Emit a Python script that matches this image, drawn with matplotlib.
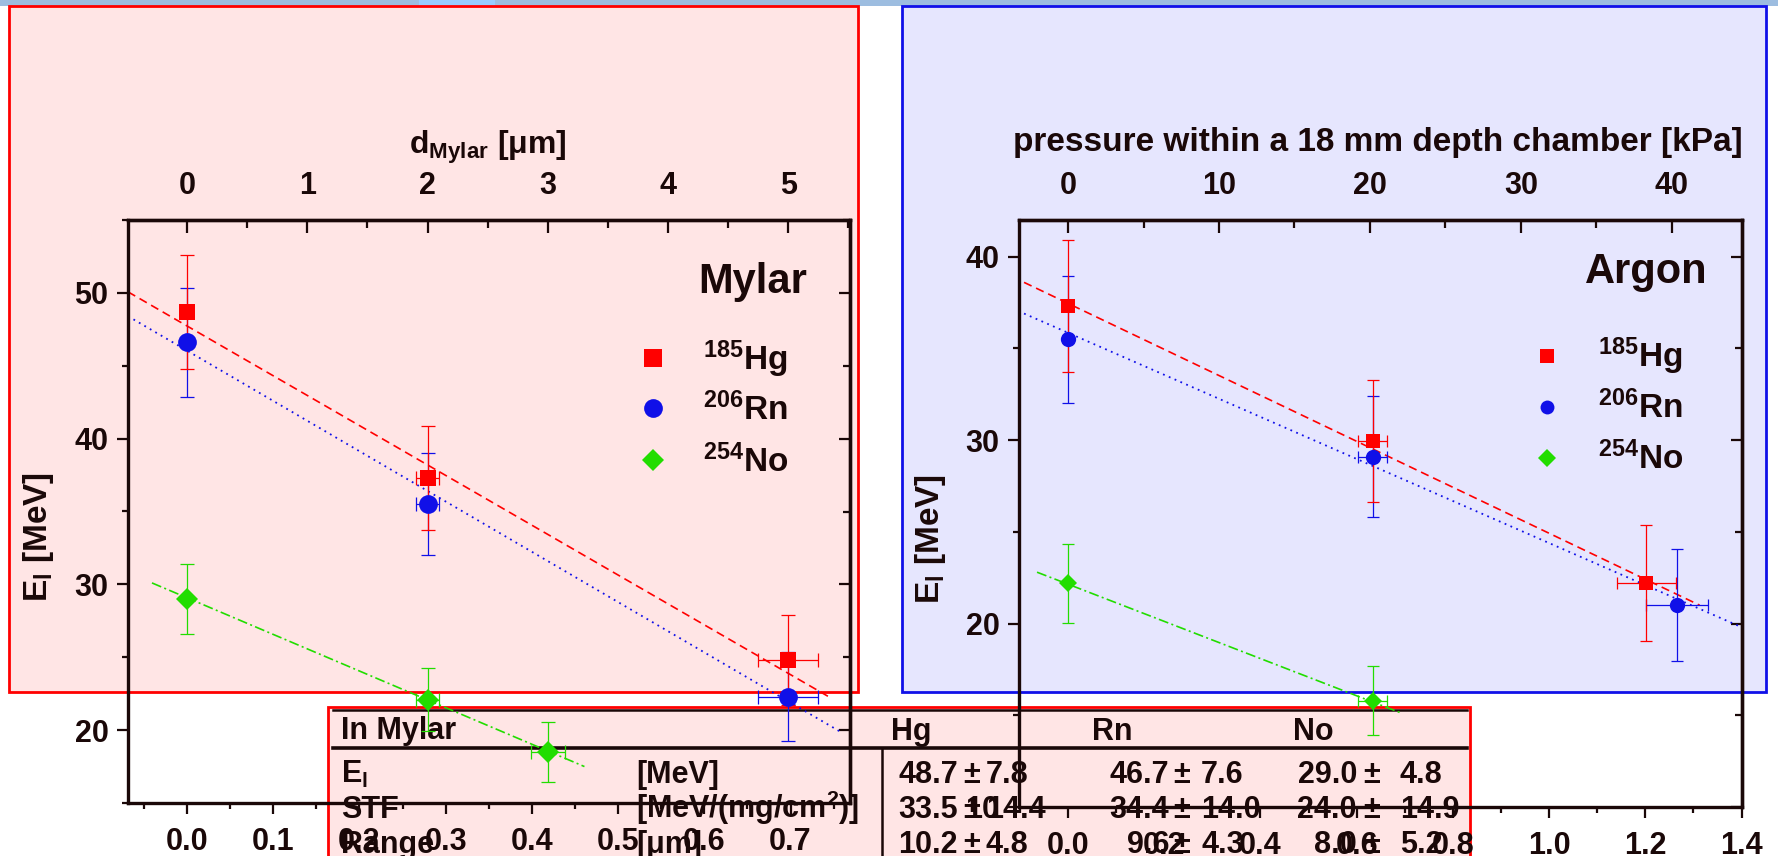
import numpy as np
import matplotlib
matplotlib.use('Agg')
import matplotlib.pyplot as plt
from matplotlib.patches import Rectangle
from matplotlib.lines import Line2D
from matplotlib.ticker import MultipleLocator, FormatStrFormatter

# ---------------- data ----------------
# Mylar: areal density [mg/cm^2] vs E_l [MeV]
my_hg_x = [0.0, 0.279, 0.697]
my_hg_y = [48.7, 37.3, 24.8]
my_hg_yerr = [3.9, 3.55, 3.1]
my_hg_xerr = [0.0, 0.013, 0.035]
my_rn_x = [0.0, 0.279, 0.697]
my_rn_y = [46.6, 35.5, 22.3]
my_rn_yerr = [3.75, 3.5, 3.05]
my_rn_xerr = [0.0, 0.013, 0.035]
my_no_x = [0.0, 0.279, 0.4185]
my_no_y = [29.0, 22.1, 18.5]
my_no_yerr = [2.4, 2.15, 2.05]
my_no_xerr = [0.0, 0.013, 0.020]
# fit lines (end points)
my_hg_fit_x = [-0.0684, 0.747]
my_hg_fit_y = [50.07, 22.2]
my_rn_fit_x = [-0.0684, 0.7575]
my_rn_fit_y = [48.4, 19.9]
my_no_fit_x = [-0.0406, 0.461]
my_no_fit_y = [30.1, 17.5]
mylar_mg_per_um = 0.1395

# Argon
ar_hg_x = [0.0, 0.633, 1.202]
ar_hg_y = [37.3, 29.95, 22.2]
ar_hg_yerr = [3.6, 3.35, 3.15]
ar_hg_xerr = [0.0, 0.031, 0.061]
ar_rn_x = [0.0, 0.633, 1.266]
ar_rn_y = [35.5, 29.1, 21.0]
ar_rn_yerr = [3.45, 3.3, 3.05]
ar_rn_xerr = [0.0, 0.031, 0.064]
ar_no_x = [0.0, 0.633]
ar_no_y = [22.2, 15.8]
ar_no_yerr = [2.15, 1.9]
ar_no_xerr = [0.0, 0.031]
ar_hg_fit_x = [-0.0915, 1.313]
ar_hg_fit_y = [38.6, 21.0]
ar_rn_fit_x = [-0.0915, 1.396]
ar_rn_fit_y = [36.9, 19.85]
ar_no_fit_x = [-0.0645, 0.695]
ar_no_fit_y = [22.8, 15.1]
argon_mg_per_kpa = 0.03137

# table
species = ['Hg', 'Rn', 'No']
row_names = ['E$_l$', 'STF', 'Range']
row_units = ['[MeV]', '[MeV/(mg/cm$^2$)]', '[μm]']
row_vals = [['48.7', '46.7', '29.0'], ['33.5', '34.4', '24.0'], ['10.2', '9.6', '8.0']]
row_errs = [['7.8', '7.6', '4.8'], ['14.4', '14.0', '14.9'], ['4.8', '4.3', '5.2']]
legend_labels = ['$^{185}$Hg', '$^{206}$Rn', '$^{254}$No']

# ---------------- style ----------------
W, H = 1778, 856
INK = '#1a0808'
RED, BLUE, GREEN = '#ff0000', '#1010e8', '#22dd00'

plt.rcParams.update({
    'font.family': ['Liberation Sans', 'DejaVu Sans'],
    'font.weight': 'bold',
    'mathtext.fontset': 'custom',
    'mathtext.rm': 'Liberation Sans:bold',
    'mathtext.it': 'Liberation Sans:bold',
    'mathtext.bf': 'Liberation Sans:bold',
    'mathtext.default': 'bf',
    'axes.linewidth': 2.4,
    'axes.edgecolor': INK,
    'text.color': INK,
    'xtick.color': INK,
    'ytick.color': INK,
})

fig = plt.figure(figsize=(W / 100, H / 100), dpi=100)


def fx(px):
    return px / W


def fy(py):
    return 1 - py / H


def box(x0, y0, x1, y1, face, edge, lw, z=0):
    fig.add_artist(Rectangle((fx(x0), fy(y1)), (x1 - x0) / W, (y1 - y0) / H,
                             transform=fig.transFigure, facecolor=face,
                             edgecolor=edge, linewidth=lw, zorder=z))


def seg(x0, y0, x1, y1, lw, color=INK, z=1):
    fig.add_artist(Line2D([fx(x0), fx(x1)], [fy(y0), fy(y1)], transform=fig.transFigure,
                          color=color, linewidth=lw, zorder=z))


def txt(x, y, s, size, ha='left', va='baseline', rot=0, z=2):
    fig.text(fx(x), fy(y), s, fontsize=size, ha=ha, va=va, rotation=rot,
             fontweight='bold', color=INK, zorder=z)


# background band and panels
box(0, 0, W, 6, '#9dbde0', 'none', 0)
box(419, 0, 495, 6, '#99ccff', 'none', 0)
box(9, 6, 858, 692, '#ffe5e5', RED, 2.0)
box(902, 6, 1766, 692, '#e6e6fe', BLUE, 2.0)

# table (sits under the charts)
box(328, 707, 1470, 900, '#ffe5e5', RED, 2.0)
seg(333, 710, 1467, 710, 1.8)
seg(333, 748, 1467, 748, 2.6)
seg(882, 748, 882, 860, 1.8)
txt(341, 739, 'In Mylar', 22)
sp_x = [891, 1092, 1293]
for s, x in zip(species, sp_x):
    txt(x, 740, s, 22)
row_y = [783, 818, 853]
pm_x = [972, 1182, 1372]
left_end = [958, 1169, 1357]
right_start = [986, 1201, 1400]
for i, yb in enumerate(row_y):
    txt(341, yb, row_names[i], 22)
    txt(636, yb, row_units[i], 22)
    for j in range(3):
        txt(left_end[j], yb, row_vals[i][j], 22, ha='right')
        txt(pm_x[j], yb, '±', 22, ha='center')
        txt(right_start[j], yb, row_errs[i][j], 22, ha='left')


def make_chart(px_box, xlim, ylim, xmaj, xmin, top_fwd, top_inv, top_maj, top_min, top_fmt):
    x0, y0, x1, y1 = px_box
    ax = fig.add_axes([fx(x0), fy(y1), (x1 - x0) / W, (y1 - y0) / H])
    ax.set_zorder(5)
    ax.patch.set_visible(False)
    ax.set_xlim(*xlim)
    ax.set_ylim(*ylim)
    ax.spines['top'].set_visible(True)
    ax.xaxis.set_major_locator(MultipleLocator(xmaj))
    ax.xaxis.set_minor_locator(MultipleLocator(xmin))
    ax.xaxis.set_major_formatter(FormatStrFormatter('%.1f'))
    ax.yaxis.set_major_locator(MultipleLocator(10))
    ax.yaxis.set_minor_locator(MultipleLocator(5))
    ax.yaxis.set_major_formatter(FormatStrFormatter('%d'))
    ax.tick_params(which='major', direction='out', length=8, width=1.6, labelsize=22)
    ax.tick_params(which='minor', direction='out', length=4.5, width=1.6)
    ax.tick_params(axis='y', pad=6)
    ax.tick_params(axis='x', pad=9)

    secx = ax.secondary_xaxis('top', functions=(top_fwd, top_inv))
    secx.xaxis.set_major_locator(MultipleLocator(top_maj))
    secx.xaxis.set_minor_locator(MultipleLocator(top_min))
    secx.xaxis.set_major_formatter(FormatStrFormatter(top_fmt))
    secx.tick_params(which='major', direction='in', length=9, width=1.6, labelsize=22, pad=14)
    secx.tick_params(which='minor', direction='in', length=5.5, width=1.6)
    secx.spines['top'].set_linewidth(2.4)

    secy = ax.secondary_yaxis('right')
    secy.yaxis.set_major_locator(MultipleLocator(10))
    secy.yaxis.set_minor_locator(MultipleLocator(5))
    secy.tick_params(which='major', direction='in', length=8, width=1.6, labelright=False)
    secy.tick_params(which='minor', direction='in', length=5, width=1.6, labelright=False)
    secy.spines['right'].set_linewidth(2.4)
    return ax


def series(ax, x, y, yerr, xerr, color, marker, ms, cap):
    x = np.asarray(x)
    y = np.asarray(y)
    xerr = np.asarray(xerr)
    ax.errorbar(x, y, yerr=yerr, fmt='none', ecolor=color, elinewidth=0.9,
                capsize=cap, capthick=0.9, zorder=3)
    m = xerr > 0
    ax.errorbar(x[m], y[m], xerr=xerr[m], fmt='none', ecolor=color, elinewidth=0.9,
                capsize=cap, capthick=0.9, zorder=3)
    ax.plot(x, y, linestyle='none', marker=marker, markersize=ms, color=color,
            markeredgewidth=0, zorder=4)


DASH = (0, (5, 3))
DOT = (0, (1, 2.5))
DASHDOT = (0, (6, 2, 1.2, 2))

# ---- Mylar chart ----
axm = make_chart((128, 220, 850, 803), (-0.0684, 0.769), (15, 55), 0.1, 0.05,
                 lambda v: v / mylar_mg_per_um, lambda v: v * mylar_mg_per_um, 1, 0.5, '%d')
axm.plot(my_hg_fit_x, my_hg_fit_y, color=RED, lw=1.2, ls=DASH, zorder=2)
axm.plot(my_rn_fit_x, my_rn_fit_y, color=BLUE, lw=1.3, ls=DOT, zorder=2)
axm.plot(my_no_fit_x, my_no_fit_y, color=GREEN, lw=1.2, ls=DASHDOT, zorder=2)
series(axm, my_no_x, my_no_y, my_no_yerr, my_no_xerr, GREEN, 'D', 11.2, 5)
series(axm, my_rn_x, my_rn_y, my_rn_yerr, my_rn_xerr, BLUE, 'o', 13.5, 5)
series(axm, my_hg_x, my_hg_y, my_hg_yerr, my_hg_xerr, RED, 's', 12, 5)

# ---- Argon chart ----
axa = make_chart((1019, 220, 1742, 807), (-0.102, 1.401), (10, 42), 0.2, 0.1,
                 lambda v: v / argon_mg_per_kpa, lambda v: v * argon_mg_per_kpa, 10, 5, '%d')
axa.plot(ar_hg_fit_x, ar_hg_fit_y, color=RED, lw=1.2, ls=DASH, zorder=2)
axa.plot(ar_rn_fit_x, ar_rn_fit_y, color=BLUE, lw=1.3, ls=DOT, zorder=2)
axa.plot(ar_no_fit_x, ar_no_fit_y, color=GREEN, lw=1.2, ls=DASHDOT, zorder=2)
series(axa, ar_no_x, ar_no_y, ar_no_yerr, ar_no_xerr, GREEN, 'D', 8.8, 4.5)
series(axa, ar_rn_x, ar_rn_y, ar_rn_yerr, ar_rn_xerr, BLUE, 'o', 11, 4.5)
series(axa, ar_hg_x, ar_hg_y, ar_hg_yerr, ar_hg_xerr, RED, 's', 9.5, 4.5)

# axis titles
txt(488, 147, 'd$_{Mylar}$ [μm]', 23, ha='center', va='center', z=6)
txt(1378, 143, 'pressure within a 18 mm depth chamber [kPa]', 24, ha='center', va='center', z=6)
txt(38, 537, 'E$_l$ [MeV]', 24, ha='center', va='center', rot=90, z=6)
txt(930, 539, 'E$_l$ [MeV]', 24, ha='center', va='center', rot=90, z=6)

# legends / panel names
txt(698, 293, 'Mylar', 30, z=6)
txt(1585, 283, 'Argon', 30, z=6)
key_styles = [(RED, 's'), (BLUE, 'o'), (GREEN, 'D')]
for (x_mk, ys_mk, x_lb, ys_lb, sizes) in [
        (653, [358, 408, 460], 703, [370, 420, 472], [13, 13.5, 11.7]),
        (1547, [356, 407, 458], 1598, [367, 418, 469], [10, 10, 8.7])]:
    for (c, mk), ym, yl, s, lab in zip(key_styles, ys_mk, ys_lb, sizes, legend_labels):
        fig.add_artist(Line2D([fx(x_mk)], [fy(ym)], transform=fig.transFigure, marker=mk,
                              markersize=s, color=c, markeredgewidth=0, linestyle='none', zorder=6))
        txt(x_lb, yl, lab, 24, z=6)

fig.savefig('out.png', dpi=100)
